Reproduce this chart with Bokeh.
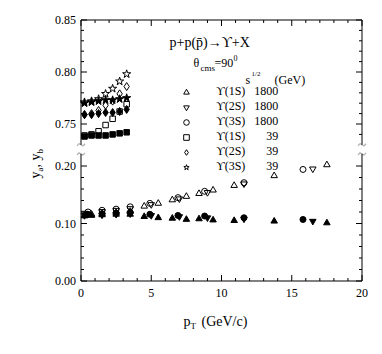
import math
from bokeh.plotting import figure
from bokeh.models import Range1d, Label, Legend, LegendItem, PolyAnnotation
from bokeh.embed import file_html
from bokeh.resources import INLINE

# ---------------- data ----------------
# sqrt(s) = 1800 GeV (lower panel)
pt_u1s_1800 = [0.25, 0.75, 1.5, 2.5, 3.5, 4.5, 5.5, 6.5, 7.5, 8.4, 9.4, 10.9, 13.75, 17.5]
ya_u1s_1800 = [0.115, 0.116, 0.117, 0.119, 0.121, 0.130, 0.135, 0.141, 0.147, 0.152, 0.158, 0.166, 0.183, 0.202]
yb_u1s_1800 = [0.113, 0.114, 0.115, 0.116, 0.116, 0.112, 0.110, 0.109, 0.107, 0.108, 0.106, 0.105, 0.104, 0.101]

pt_u2s_1800 = [0.25, 1.5, 2.5, 3.5, 5.0, 7.0, 9.0, 11.6, 16.5]
ya_u2s_1800 = [0.118, 0.121, 0.123, 0.126, 0.133, 0.143, 0.154, 0.169, 0.195]
yb_u2s_1800 = [0.114, 0.115, 0.116, 0.117, 0.114, 0.112, 0.110, 0.108, 0.104]

pt_u3s_1800 = [0.5, 1.5, 2.5, 3.5, 4.9, 6.9, 8.8, 11.6, 15.8]
ya_u3s_1800 = [0.120, 0.123, 0.125, 0.129, 0.135, 0.145, 0.156, 0.171, 0.194]
yb_u3s_1800 = [0.116, 0.117, 0.118, 0.119, 0.116, 0.114, 0.113, 0.110, 0.107]

# sqrt(s) = 39 GeV (upper panel)
pt_39 = [0.25, 0.75, 1.25, 1.75, 2.25, 2.75, 3.25]
ya_u1s_39 = [0.739, 0.740, 0.743, 0.749, 0.755, 0.762, 0.769]
yb_u1s_39 = [0.738, 0.739, 0.739, 0.739, 0.740, 0.741, 0.742]
ya_u2s_39 = [0.759, 0.760, 0.763, 0.768, 0.772, 0.779, 0.786]
yb_u2s_39 = [0.759, 0.759, 0.760, 0.761, 0.761, 0.762, 0.764]
ya_u3s_39 = [0.771, 0.772, 0.774, 0.779, 0.784, 0.791, 0.798]
yb_u3s_39 = [0.770, 0.771, 0.772, 0.773, 0.773, 0.774, 0.775]

# ticks
x_major_ticks = [0, 5, 10, 15, 20]
x_tick_labels = ["0", "5", "10", "15", "20"]
x_minor_ticks = [1, 2, 3, 4, 6, 7, 8, 9, 11, 12, 13, 14, 16, 17, 18, 19]
y_ticks_low = [0.0, 0.1, 0.2]
y_labels_low = ["0.00", "0.10", "0.20"]
y_minor_low = [0.02, 0.04, 0.06, 0.08, 0.12, 0.14, 0.16, 0.18]
y_ticks_high = [0.75, 0.80, 0.85]
y_labels_high = ["0.75", "0.80", "0.85"]
y_minor_high = [0.74, 0.76, 0.77, 0.78, 0.79, 0.81, 0.82, 0.83, 0.84]

legend_labels = ["\u03d2(1S)\u2007 1800", "\u03d2(2S)\u2007 1800", "\u03d2(3S)\u2007 1800",
                 "\u03d2(1S)\u2007 \u2007\u200739", "\u03d2(2S)\u2007 \u2007\u200739",
                 "\u03d2(3S)\u2007 \u2007\u200739"]

# ---------------- geometry ----------------
W, H = 380, 350
X_MIN, X_MAX = 0.0, 20.0
LO_BOTTOM = 0.0
HI_TOP = 0.85
BREAK_LO = 0.221          # top end of the lower axis segment
BREAK_HI = 0.730          # bottom end of the upper axis segment
X_PX0, X_SCALE = 80.5, 14.05        # pixel of pT = 0, pixels per GeV/c
YLO_PX0, YLO_SCALE = 280.5, 575.0   # pixel of y = 0, pixels per unit (lower part)
YHI_PX0, YHI_SCALE = 19.5, 1040.0   # pixel of y = 0.85, pixels per unit (upper part)
TMAJ, TMIN = 6, 3
SERIF = "Liberation Serif"

def dx(px):
    return (px - X_PX0) / X_SCALE
def dy(py):
    return (YLO_PX0 - py) / YLO_SCALE
def px_x(v):
    return X_PX0 + (v - X_MIN) * X_SCALE
def px_lo(v):
    return YLO_PX0 - (v - LO_BOTTOM) * YLO_SCALE
def px_hi(v):
    return YHI_PX0 + (HI_TOP - v) * YHI_SCALE

p = figure(width=W, height=H, x_range=Range1d(dx(0), dx(W)), y_range=Range1d(dy(H), dy(0)),
           output_backend="svg", toolbar_location=None,
           x_axis_location=None, y_axis_location=None,
           min_border=0, min_border_left=0, min_border_right=0, min_border_top=0,
           min_border_bottom=0, background_fill_color="white", border_fill_color="white",
           outline_line_color=None)
p.extra_y_ranges = {"high": Range1d(HI_TOP - (H - YHI_PX0) / YHI_SCALE,
                                    HI_TOP + YHI_PX0 / YHI_SCALE)}
p.grid.visible = False

LINE = dict(line_color="black", line_width=1)

# ---------------- frame (broken) ----------------
p.segment(x0=[X_MIN, X_MAX, X_MIN], y0=[LO_BOTTOM, LO_BOTTOM, LO_BOTTOM],
          x1=[X_MIN, X_MAX, X_MAX], y1=[BREAK_LO, BREAK_LO, LO_BOTTOM], **LINE)
p.segment(x0=[X_MIN, X_MAX, X_MIN], y0=[BREAK_HI, BREAK_HI, HI_TOP],
          x1=[X_MIN, X_MAX, X_MAX], y1=[HI_TOP, HI_TOP, HI_TOP], y_range_name="high", **LINE)

# ---------------- ticks ----------------
def xticks(vals, ln):
    p.segment(x0=vals, y0=[LO_BOTTOM] * len(vals), x1=vals,
              y1=[LO_BOTTOM + ln / YLO_SCALE] * len(vals), **LINE)
    p.segment(x0=vals, y0=[HI_TOP] * len(vals), x1=vals,
              y1=[HI_TOP - ln / YHI_SCALE] * len(vals), y_range_name="high", **LINE)

def yticks(vals, ln, high=False):
    kw = dict(y_range_name="high") if high else {}
    n = len(vals)
    p.segment(x0=[X_MIN] * n, y0=vals, x1=[X_MIN + ln / X_SCALE] * n, y1=vals, **LINE, **kw)
    p.segment(x0=[X_MAX] * n, y0=vals, x1=[X_MAX - ln / X_SCALE] * n, y1=vals, **LINE, **kw)

xticks(x_major_ticks, TMAJ)
xticks(x_minor_ticks, TMIN)
yticks(y_ticks_low, TMAJ)
yticks(y_minor_low, TMIN)
yticks(y_ticks_high, TMAJ, True)
yticks(y_minor_high, TMIN, True)

# ---------------- texts ----------------
def txt(x, y, text, size, angle=0.0, align="left"):
    p.add_layout(Label(x=dx(x), y=dy(y), text=text, text_font=SERIF,
                       text_font_size=f"{size}px", text_color="black",
                       text_baseline="middle", text_align=align, angle=angle))

for v, lab in zip(x_major_ticks, x_tick_labels):
    txt(px_x(v), px_lo(LO_BOTTOM) + 12, lab, 12, align="center")
for v, lab in zip(y_ticks_low, y_labels_low):
    txt(px_x(X_MIN) - 5, px_lo(v), lab, 12, align="right")
for v, lab in zip(y_ticks_high, y_labels_high):
    txt(px_x(X_MIN) - 5, px_hi(v), lab, 12, align="right")

txt(169, 42, "p+p(p\u0304)\u2192\u03d2+X", 14)
txt(193, 62, "\u03b8", 12)
txt(200, 67, "cms", 9)
txt(214, 62, "=90", 12)
txt(233, 57, "0", 8)
txt(245, 79, "s", 12)
txt(251, 73, "1/2", 7)
txt(274, 79, "(GeV)", 12)

txt(183, 321, "p", 14)
txt(190, 325, "T", 9)
txt(201, 321, "(GeV/c)", 14)

A = math.pi / 2
txt(35, 178, "y", 14, A)
txt(39, 171, "a", 9, A)
txt(35, 167, ", y", 14, A)
txt(39, 153, "b", 9, A)

# ---------------- break marks ----------------
offs = [(-4, 1.0), (-2, -1.2), (0, 0.0), (2, 1.2), (4, -1.0)]
for xa in (px_x(X_MIN), px_x(X_MAX)):
    for yb in (px_lo(BREAK_LO), px_hi(BREAK_HI)):
        xs = [dx(xa + ox) for ox, oy in offs]
        ys = [dy(yb + oy) for ox, oy in offs]
        p.add_layout(PolyAnnotation(xs=xs + xs[::-1], ys=ys + ys[::-1], fill_alpha=0,
                                    line_color="black", line_width=1.3))

# ---------------- data glyphs ----------------
def pts(x, y, marker, size, filled, high=False):
    kw = dict(x=x, y=y, marker=marker, size=size, line_color="black", line_width=1,
              fill_color="black" if filled else None)
    if high:
        kw["y_range_name"] = "high"
    return p.scatter(**kw)

pts(pt_u1s_1800, yb_u1s_1800, "triangle", 6.5, True)
pts(pt_u2s_1800, yb_u2s_1800, "inverted_triangle", 6.5, True)
pts(pt_u3s_1800, yb_u3s_1800, "circle", 6, True)
r1 = pts(pt_u1s_1800, ya_u1s_1800, "triangle", 6.5, False)
r2 = pts(pt_u2s_1800, ya_u2s_1800, "inverted_triangle", 6.5, False)
r3 = pts(pt_u3s_1800, ya_u3s_1800, "circle", 6, False)

pts(pt_39, yb_u1s_39, "square", 5.5, True, True)
pts(pt_39, yb_u2s_39, "diamond", 8, True, True)
pts(pt_39, yb_u3s_39, "star", 8.5, True, True)
r4 = pts(pt_39, ya_u1s_39, "square", 5.5, False, True)
r5 = pts(pt_39, ya_u2s_39, "diamond", 8, False, True)
r6 = pts(pt_39, ya_u3s_39, "star", 8.5, False, True)

legend = Legend(items=[LegendItem(label=l, renderers=[r]) for l, r in
                       zip(legend_labels, [r1, r2, r3, r4, r5, r6])],
                location=(179, 176), orientation="vertical", glyph_width=14, glyph_height=14,
                label_height=14, spacing=0, padding=0, margin=0, label_standoff=23,
                background_fill_alpha=0, border_line_alpha=0,
                label_text_font=SERIF, label_text_font_size="12px", label_text_color="black")
p.add_layout(legend)

open("out.html", "w").write(file_html(p, INLINE))
